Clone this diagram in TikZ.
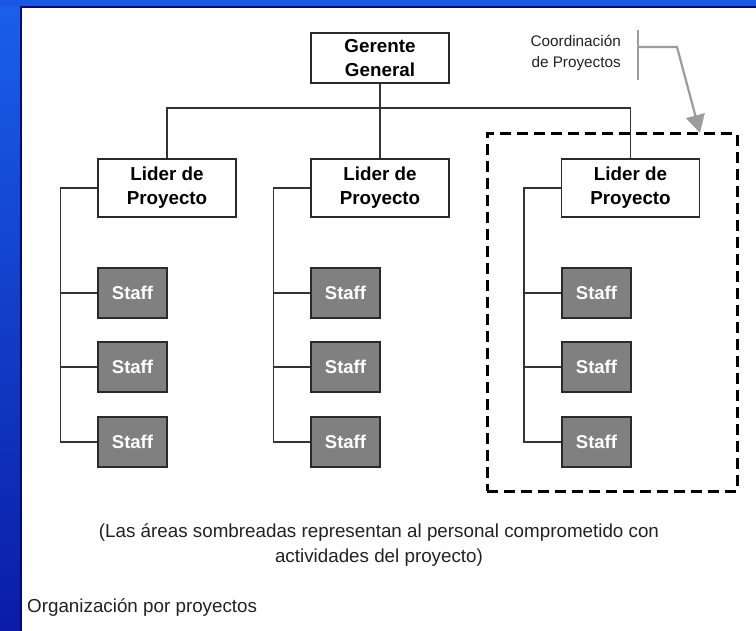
\documentclass[tikz,border=0pt]{standalone}
\usepackage{fontspec}
\setmainfont{Liberation Sans}
\usetikzlibrary{arrows.meta}
\definecolor{topblue}{HTML}{1A58E4}
\definecolor{sideblueT}{HTML}{1A60EA}
\definecolor{sideblueB}{HTML}{0A1CA8}
\definecolor{navyline}{HTML}{000A78}
\definecolor{boxline}{HTML}{2A2A2A}
\definecolor{linegray}{HTML}{333333}
\definecolor{staffgray}{HTML}{808080}
\definecolor{annotgray}{HTML}{9C9C9C}
\definecolor{textdark}{HTML}{222222}
\tikzset{
  bossbox/.style={draw=boxline, fill=white, line width=1.3, minimum width=138, minimum height=50,
    align=center, inner sep=0, font=\bfseries\fontsize{18.8}{24}\selectfont, text=black},
  liderbox/.style={bossbox, minimum height=58},
  staffbox/.style={draw=boxline, fill=staffgray, line width=1.3, minimum width=69, minimum height=50,
    inner sep=0, text=white, font=\bfseries\fontsize{18.5}{22}\selectfont},
  conn/.style={draw=linegray, line width=1.3},
  annot/.style={draw=annotgray, line width=2.2},
  captxt/.style={inner sep=0, text=textdark, font=\fontsize{18.8}{25}\selectfont},
}
\begin{document}
\begin{tikzpicture}[x=1pt,y=-1pt]
\useasboundingbox (0,0) rectangle (756,631);
% frame
\fill[white] (0,0) rectangle (756,631);
\shade[top color=sideblueT, bottom color=sideblueB] (0,0) rectangle (21,631);
\fill[topblue] (0,0) rectangle (756,7);
\draw[navyline, line width=2] (21,631) -- (21,7) -- (756,7);

% boxes
\node[bossbox] (gg) at (380,58) {Gerente\\General};
\node[liderbox] (l1) at (167,188) {Lider de\\Proyecto};
\node[liderbox] (l2) at (380,188) {Lider de\\Proyecto};
\node[liderbox] (l3) at (630.5,188) {Lider de\\Proyecto};

\foreach \c/\x in {1/132.5, 2/345.5, 3/596.5}{
  \node[staffbox] (s\c1) at (\x,293) {Staff};
  \node[staffbox] (s\c2) at (\x,367) {Staff};
  \node[staffbox] (s\c3) at (\x,442) {Staff};
}

% connectors
\coordinate (bus) at (380,108);
\draw[conn] (l1.north) |- (bus) -| (l3.north);
\draw[conn] (gg.south) -- (l2.north);
\foreach \c in {1,2,3}{
  \draw[conn] (l\c.west) -- ++(-37,0) |- (s\c3.west);
  \draw[conn] (s\c1.west) -- ++(-37,0);
  \draw[conn] (s\c2.west) -- ++(-37,0);
}

% dashed project box
\node[draw=black, line width=3, dash pattern=on 11pt off 6pt, minimum width=250, minimum height=357, inner sep=0] (dbox) at (612,312.5) {};

% annotation
\node[anchor=east, align=right, inner sep=0, text=textdark, font=\fontsize{15.3}{21}\selectfont] (coord) at (621,53) {Coordinación\\de Proyectos};
\coordinate (barT) at (638,30);
\coordinate (barB) at (638,80);
\coordinate (barM) at (638,47);
\coordinate (elbow) at (677,47);
\coordinate (tip) at (700,133);
\draw[annot] (barT) -- (barB);
\draw[annot, -{Triangle[width=19pt,length=18pt]}] (barM) -- (elbow) -- (tip);

% captions
\node[captxt, anchor=base] (cap1) at (379,537) {(Las áreas sombreadas representan al personal comprometido con};
\node[captxt, anchor=base] (cap2) at (379,562) {actividades del proyecto)};
\node[captxt, anchor=base west] (org) at (27,612) {Organización por proyectos};
\end{tikzpicture}
\end{document}
